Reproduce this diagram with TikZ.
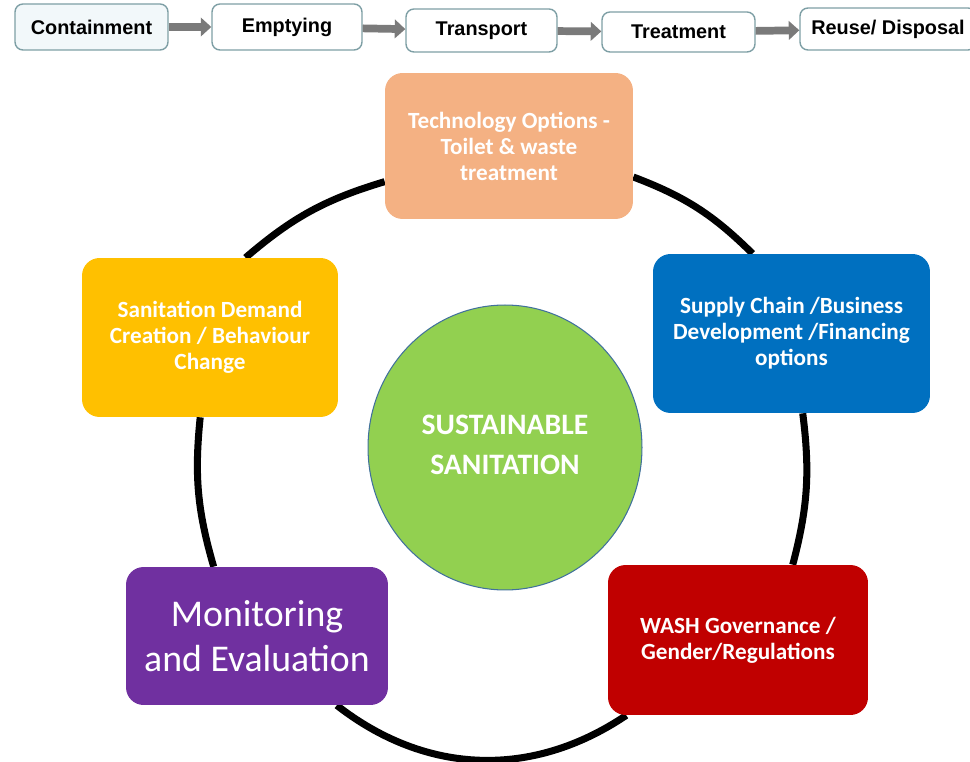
\documentclass[tikz,border=0pt]{standalone}
\usepackage{fontspec}
\setmainfont{Carlito}
\newfontfamily\arialfont{Liberation Sans}
\usetikzlibrary{arrows.meta,shapes.geometric,backgrounds}
\definecolor{edgeteal}{HTML}{7E9FA5}
\definecolor{paleblue}{HTML}{F2F8FA}
\definecolor{arrowgray}{HTML}{7A7A7A}
\definecolor{peach}{HTML}{F4B183}
\definecolor{amber}{HTML}{FFC000}
\definecolor{royal}{HTML}{0070C0}
\definecolor{crimson}{HTML}{C00000}
\definecolor{violet}{HTML}{7030A0}
\definecolor{hubgreen}{HTML}{92D050}
\definecolor{hubline}{HTML}{41719C}
\tikzset{pb/.style = {rectangle, rounded corners=4.5pt, draw=edgeteal, line width=0.8pt, fill=white, inner sep=0pt,
                      font=\arialfont\bfseries\fontsize{11.3}{13}\selectfont},
           tb/.style = {rectangle, rounded corners=10pt, inner sep=0pt, text=white, align=center,
                      font=\bfseries\fontsize{13.2}{14.8}\selectfont},
           hub/.style = {ellipse, draw=hubline, line width=0.6pt, fill=hubgreen, inner sep=0pt, text=white, align=center,
                      minimum width=5.48cm, minimum height=5.70cm, font=\bfseries\fontsize{16.9}{22.7}\selectfont},
           flow/.style = {line width=4.4pt, draw=arrowgray, -{Triangle[width=10.5pt,length=6pt]}},
           ring/.style = {line width=4pt, draw=black}}

\begin{document}
\begin{tikzpicture}[x=0.02cm, y=0.02cm]
    \useasboundingbox (0,0) rectangle (970,761);
    % chain of the service
    \node[pb, fill=paleblue, minimum width=3.06cm, minimum height=0.92cm] (cont) at (91.5,734) {Containment};
    \node[pb, minimum width=3.00cm, minimum height=0.92cm] (empt) at (287,734) {Emptying};
    \node[pb, minimum width=3.02cm, minimum height=0.86cm] (tran) at (481.5,730.5) {Transport};
    \node[pb, minimum width=3.06cm, minimum height=0.80cm] (trea) at (678.5,729) {Treatment};
    \node[pb, minimum width=3.52cm, minimum height=0.84cm] (reus) at (888,732) {Reuse/ Disposal};
    \draw[flow] (cont) -- (empt);
    \draw[flow] (empt) -- (tran);
    \draw[flow] (tran) -- (trea);
    \draw[flow] (trea) -- (reus);
    % cycle
    \node[hub] (core) at (505,313.5) {\raisebox{3pt}{SUSTAINABLE}\\\raisebox{3pt}{SANITATION}};
    \node[tb, fill=peach, minimum width=4.96cm, minimum height=2.92cm] (tech) at (509,615) {Technology Options -\\Toilet \& waste\\treatment};
    \node[tb, fill=royal, minimum width=5.54cm, minimum height=3.18cm] (sup) at (791.5,427.5) {Supply Chain /Business\\Development /Financing\\options};
    \node[tb, fill=amber, minimum width=5.12cm, minimum height=3.18cm] (dem) at (210,423.5) {Sanitation Demand\\Creation / Behaviour\\Change};
    \node[tb, fill=crimson, minimum width=5.20cm, minimum height=3.00cm] (gov) at (738,121) {WASH Governance /\\Gender/Regulations};
    \node[tb, fill=violet, minimum width=5.24cm, minimum height=2.76cm, font=\fontsize{21.5}{25.5}\selectfont] (mon) at (257,125) {Monitoring\\and Evaluation};
    \begin{scope}[on background layer]
    \draw[ring] (tech.196) to[bend right=12] (dem.66);
    \draw[ring] (tech.346) to[bend left=12] (sup.116);
    \draw[ring] (dem.263) to[bend right=11] (mon.122);
    \draw[ring] (sup.278) to[bend left=11] (gov.54);
    \draw[ring] (mon.319) to[bend right=36] (gov.214);
    \end{scope}
\end{tikzpicture}
\end{document}
